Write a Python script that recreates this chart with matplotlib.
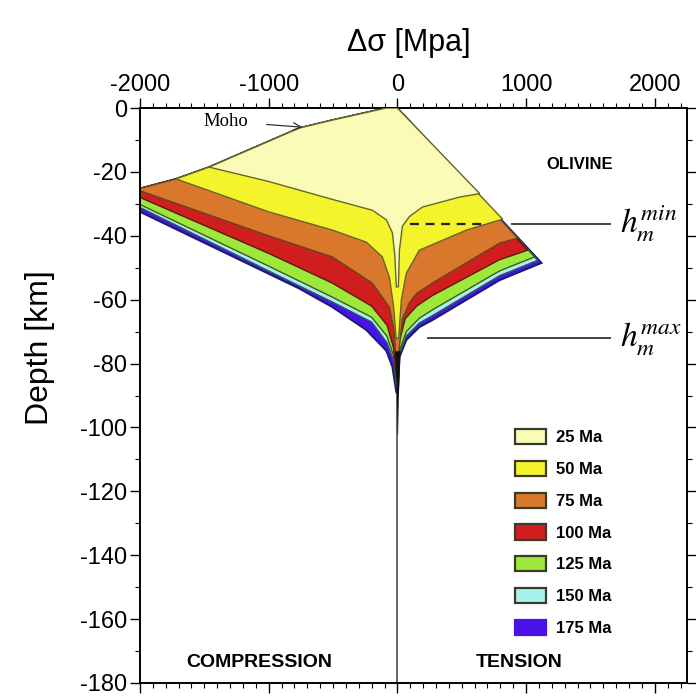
import matplotlib
matplotlib.use("Agg")
import matplotlib.pyplot as plt
import matplotlib.patches as mpatches
import numpy as np

plt.rcParams["font.family"] = ["Liberation Sans", "DejaVu Sans"]
plt.rcParams["mathtext.fontset"] = "stix"
plt.rcParams["axes.unicode_minus"] = False

# ages and colours
ages = ["25 Ma", "50 Ma", "75 Ma", "100 Ma", "125 Ma", "150 Ma", "175 Ma"]
face_colors = ["#fbfbb8", "#f4f42c", "#d9772c", "#d01d1d", "#9ee83c", "#a9f1ef", "#4a12e6"]
edge_colors = ["#66662a", "#66662a", "#5e4a1c", "#5a1a10", "#3e5a1a", "#2a5a5a", "#1a1a70"]

# brittle (frictional) branch on the compression side, (stress MPa, depth km)
brittle_comp = [(0, 0), (-86, 0), (-506, 3.8), (-763, 6.3), (-1463, 18.5), (-1720, 22.2), (-2000, 25.2)]

# ductile branches, starting at the brittle corner and ending at the centre
comp_25 = [(-1463, 18.5), (-1000, 23.0), (-506, 28.6), (-195, 32.0), (-86, 35.0), (-39, 39.0), (-20, 46.0), (-8, 56.0)]
tens_25 = [(640, 26.8), (482, 27.9), (195, 31.0), (93, 34.0), (39, 37.0), (16, 44.5), (8, 56.0)]

comp_50 = [(-1720, 22.2), (-1000, 32.5), (-506, 38.2), (-241, 42.0), (-117, 46.6), (-62, 53.0), (-30, 62.0), (-10, 72.0)]
tens_50 = [(818, 34.8), (537, 38.2), (171, 44.5), (70, 51.7), (31, 60.0), (10, 72.0)]

comp_75 = [(-2000, 25.9), (-1000, 40.0), (-506, 46.6), (-195, 54.8), (-62, 62.3), (-25, 70.0), (-8, 80.0)]
tens_75 = [(934, 40.7), (794, 42.3), (272, 54.8), (150, 58.0), (93, 61.0), (40, 66.0), (12, 76.0)]

comp_100 = [(-2000, 28.0), (-1000, 45.5), (-506, 54.8), (-200, 62.0), (-80, 68.0), (-30, 75.0), (-8, 84.0)]
tens_100 = [(1012, 44.5), (794, 47.5), (272, 58.7), (150, 62.0), (60, 66.0), (16, 73.0), (5, 84.0)]

comp_125 = [(-2000, 30.2), (-1000, 49.5), (-506, 59.2), (-200, 65.5), (-80, 71.5), (-30, 77.5), (-8, 86.0)]
tens_125 = [(1066, 46.6), (794, 51.0), (272, 63.2), (171, 65.8), (70, 70.0), (16, 76.0), (5, 86.0)]

comp_150 = [(-2000, 31.1), (-1000, 51.0), (-506, 60.7), (-200, 67.0), (-80, 73.5), (-30, 79.0), (-8, 87.0)]
tens_150 = [(1090, 47.7), (794, 52.5), (272, 65.0), (171, 67.3), (70, 71.3), (16, 77.0), (5, 87.0)]

comp_175 = [(-2000, 32.5), (-763, 56.5), (-506, 62.3), (-241, 69.5), (-86, 76.0), (-39, 81.0), (-8, 89.0)]
tens_175 = [(1120, 48.5), (794, 53.9), (272, 66.4), (171, 68.6), (70, 72.6), (16, 78.0), (5, 89.0)]

comp_branches = [comp_25, comp_50, comp_75, comp_100, comp_125, comp_150, comp_175]
tens_branches = [tens_25, tens_50, tens_75, tens_100, tens_125, tens_150, tens_175]

# dark converging tail below the envelopes
tail_depth = [76, 82, 88, 95, 102]
tail_half_width = [22, 15, 9, 5, 2]

# reference depths
h_min_depth = 36.3
h_max_depth = 72.0


def envelope_outline(comp, tens):
    corner_depth = comp[0][1]
    upper = [p for p in brittle_comp if p[1] < corner_depth]
    pts = [(0, 0)] + tens + comp[::-1] + upper[::-1]
    xs = np.array([p[0] for p in pts], dtype=float)
    ds = np.array([p[1] for p in pts], dtype=float)
    return xs, -ds


fig = plt.figure(figsize=(6.96, 6.96), dpi=100)
ax = fig.add_axes([0.2011, 0.0187, 0.7859, 0.8261])

for i in range(len(ages) - 1, -1, -1):
    xs, ys = envelope_outline(comp_branches[i], tens_branches[i])
    ax.fill(xs, ys, facecolor=face_colors[i], edgecolor=edge_colors[i],
            linewidth=1.0 if i < 6 else 1.4, zorder=2 + (6 - i) * 0.1)

ax.axvline(0, color="#3a3a3a", linewidth=1.1, zorder=1)
td = -np.array(tail_depth, dtype=float)
tw = np.array(tail_half_width, dtype=float)
ax.fill_betweenx(td, -tw, tw, color="#111111", linewidth=0, zorder=3)

# h_m markers
ax.plot([101, 670], [-h_min_depth, -h_min_depth], color="#222222", linewidth=1.6,
        linestyle=(0, (4, 3)), zorder=4)
ax.plot([887, 1650], [-h_min_depth, -h_min_depth], color="#444444", linewidth=1.4, zorder=4)
ax.plot([241, 1650], [-h_max_depth, -h_max_depth], color="#444444", linewidth=1.4, zorder=4)
ax.text(1730, -h_min_depth, r"$h_m^{min}$", fontsize=24, ha="left", va="center", zorder=5)
ax.text(1730, -h_max_depth, r"$h_m^{max}$", fontsize=24, ha="left", va="center", zorder=5)

ax.text(1416, -17.8, "OLIVINE", fontsize=12, fontweight="bold", ha="center", va="center")
ax.text(-1074, -173.5, "COMPRESSION", fontsize=14, fontweight="bold", ha="center", va="center")
ax.text(950, -173.5, "TENSION", fontsize=14, fontweight="bold", ha="center", va="center")
ax.annotate("Moho", xy=(-739, -6.0), xytext=(-1330, -4.2), fontsize=13.5,
            family=["Liberation Serif", "DejaVu Serif"], ha="center", va="center",
            arrowprops=dict(arrowstyle="->", color="#333333", lw=0.9, shrinkA=11, shrinkB=0))

ax.set_xlim(-2000, 2250)
ax.set_ylim(-180, 0)
ax.set_xticks([-2000, -1000, 0, 1000, 2000])
ax.set_xticks(np.arange(-2000, 2250, 100), minor=True)
ax.set_yticks(np.arange(-180, 1, 20))
ax.set_yticks(np.arange(-180, 1, 10), minor=True)
ax.tick_params(axis="x", which="both", top=True, bottom=True, labeltop=True, labelbottom=False,
               direction="out")
ax.tick_params(axis="y", which="both", left=True, right=True, direction="out")
ax.tick_params(which="major", length=7, width=1.0, labelsize=17, pad=2)
ax.tick_params(which="minor", length=3.5, width=0.8)
for s in ax.spines.values():
    s.set_linewidth(1.4)

ax.set_xlabel("Δσ [Mpa]", fontsize=22)
ax.xaxis.set_label_position("top")
ax.xaxis.set_label_coords(0.491, 1.10)
ax.set_ylabel("Depth [km]", fontsize=23)
ax.yaxis.set_label_coords(-0.155, 0.584)

handles = [mpatches.Patch(facecolor=c, edgecolor=("#3a3a2a" if k < 6 else c), linewidth=1.6)
           for k, c in enumerate(face_colors)]
ax.legend(handles, ages, loc="upper left", bbox_to_anchor=(515 / 696, 1 - 429 / 696),
          bbox_transform=fig.transFigure, frameon=False, borderpad=0, borderaxespad=0,
          handlelength=1.85, handleheight=1.05, labelspacing=0.92, handletextpad=0.6,
          prop={"weight": "bold", "size": 12})

fig.savefig("out.png", dpi=100)
